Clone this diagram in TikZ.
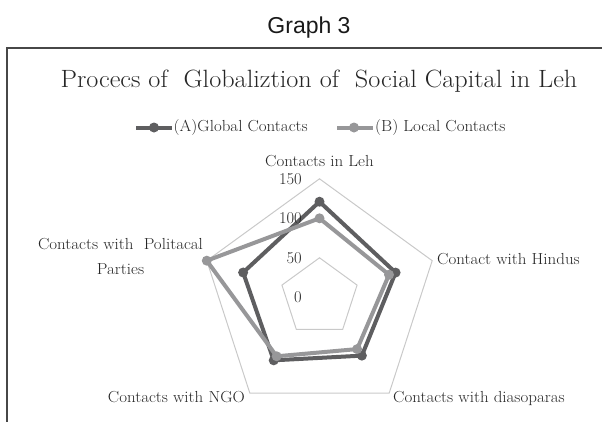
\documentclass[tikz,border=0pt]{standalone}
\usepackage{fontspec}
\newfontfamily\hsans{Liberation Sans}
\definecolor{serA}{HTML}{5E5E60}
\definecolor{serB}{HTML}{979799}
\definecolor{gridc}{HTML}{C9C9C9}
\definecolor{txt}{HTML}{262626}
\newcommand{\wx}[1]{\scalebox{1.06}[1]{#1}}
\begin{document}
\begin{tikzpicture}[x=1pt,y=-1pt,
  lbl/.style={font=\fontsize{16}{25}\selectfont, text=txt, inner sep=0pt},
  axlbl/.style={font=\fontsize{16.5}{18}\selectfont, text=txt, inner sep=0pt, anchor=east},
  serAline/.style={draw=serA, line width=4pt, line join=round},
  serBline/.style={draw=serB, line width=4pt, line join=round},
  gridline/.style={draw=gridc, line width=1pt},
  mk/.style={circle, inner sep=0pt, minimum size=10pt},
]
\useasboundingbox (0,0) rectangle (602,421);
% frame
\coordinate (fa) at (7,430);
\coordinate (fb) at (7,48);
\coordinate (fc) at (610,48);
\draw[line width=1.5pt, black!72] (fa) -- (fb) -- (fc);
% headings
\node[font=\hsans\fontsize{23}{27}\selectfont, text=black!90, anchor=base, inner sep=0pt] (graph) at (309,33.3) {Graph 3};
\node[font=\fontsize{25}{30}\selectfont, text=txt, anchor=base, inner sep=0pt] (title) at (319,87) {\scalebox{1.05}[1]{Procecs of\ \ Globaliztion of\ \ Social Capital in Leh}};
% legend
\coordinate (la1) at (136,127.5);
\coordinate (la2) at (172,127.5);
\draw[serAline] (la1) -- (la2);
\node[mk, fill=serA] (lam) at (154,127.5) {};
\node[lbl, anchor=base west] (lat) at (173.5,131.7) {\wx{(A)Global Contacts}};
\coordinate (lb1) at (337,127.5);
\coordinate (lb2) at (373,127.5);
\draw[serBline] (lb1) -- (lb2);
\node[mk, fill=serB] (lbm) at (354,127.5) {};
\node[lbl, anchor=base west] (lbt) at (375,131.7) {\wx{(B) Local Contacts}};
% radar
\begin{scope}[shift={(319.5,297.3)}]
  \coordinate (c) at (0,0);
  \foreach \a [count=\i] in {-90,-18,54,126,198} {
    \coordinate (o\i) at (\a:118.5);
    \coordinate (n\i) at (\a:39.5);
  }
  \draw[gridline] (o1) -- (o2) -- (o3) -- (o4) -- (o5) -- cycle;
  \draw[gridline] (n1) -- (n2) -- (n3) -- (n4) -- (n5) -- cycle;
  % series A (global)
  \coordinate (g1) at (-90:95.6);
  \coordinate (g2) at (-18:80);
  \coordinate (g3) at (54:72.1);
  \coordinate (g4) at (126:77.9);
  \coordinate (g5) at (198:80.3);
  % series B (local)
  \coordinate (b1) at (-90:79);
  \coordinate (b2) at (-18:73.1);
  \coordinate (b3) at (54:64);
  \coordinate (b4) at (126:72.9);
  \coordinate (b5) at (198:118.5);
  \draw[serAline] (g1) -- (g2) -- (g3) -- (g4) -- (g5) -- cycle;
  \foreach \i in {1,...,5} \node[mk, fill=serA] (gm\i) at (g\i) {};
  \draw[serBline] (b1) -- (b2) -- (b3) -- (b4) -- (b5) -- cycle;
  \foreach \i in {1,...,5} \node[mk, fill=serB] (bm\i) at (b\i) {};
\end{scope}
% axis values
\node[axlbl] (v150) at (302,178.8) {150};
\node[axlbl] (v100) at (302,218.3) {100};
\node[axlbl] (v50) at (302,257.8) {50};
\node[axlbl] (v0) at (302,297.3) {0};
% category labels
\node[lbl, anchor=base] (cleh) at (319.5,166.7) {\wx{Contacts in Leh}};
\node[lbl, anchor=base west] (chin) at (437,264) {\wx{Contact with Hindus}};
\node[lbl, anchor=base west] (cdia) at (393,402) {\wx{Contacts with diasoparas}};
\node[lbl, anchor=base east] (cngo) at (245,402) {\wx{Contacts with NGO}};
\node[lbl, anchor=north, align=center] (cpol) at (120.5,238.5) {\wx{Contacts with\ \ Politacal}\\\wx{Parties}};
\end{tikzpicture}
\end{document}
